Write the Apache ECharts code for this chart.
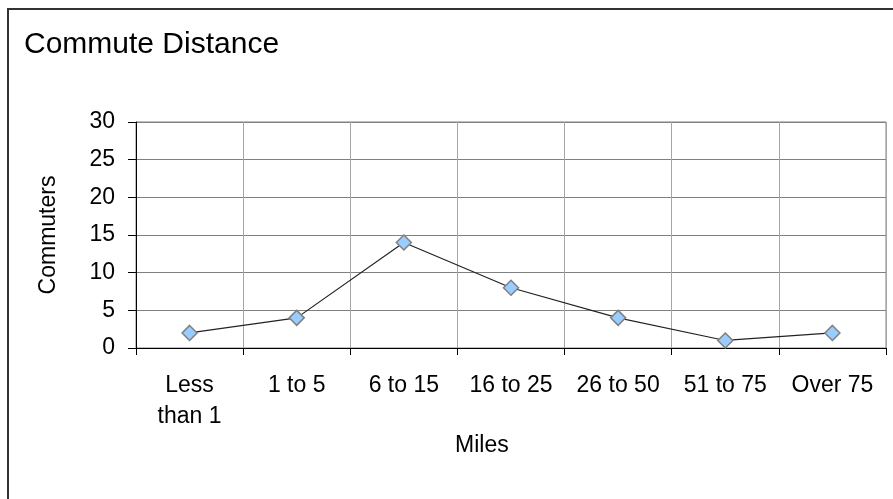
<!DOCTYPE html>
<html>
<head>
<meta charset="utf-8">
<script src="https://cdn.jsdelivr.net/npm/echarts@6/dist/echarts.min.js"></script>
<style>html,body{margin:0;padding:0;background:#fff;}#c{width:893px;height:499px;}</style>
</head>
<body>
<div id="c"></div>
<script>
var categories = ['Less\nthan 1', '1 to 5', '6 to 15', '16 to 25', '26 to 50', '51 to 75', 'Over 75'];
var commuters = [2, 4, 14, 8, 4, 1, 2];
var yTicks = [0, 5, 10, 15, 20, 25, 30];

var chart = echarts.init(document.getElementById('c'), null, {renderer: 'canvas'});
var FONT = 'Liberation Sans, Arial, sans-serif';
chart.setOption({
  animation: false,
  backgroundColor: '#fff',
  title: {
    text: 'Commute Distance',
    left: 19, top: 25,
    textStyle: {fontFamily: FONT, fontSize: 30, fontWeight: 'normal', color: '#000'}
  },
  graphic: [
    {type: 'rect', shape: {x: 8, y: 9, width: 900, height: 510}, style: {fill: 'none', stroke: '#333', lineWidth: 2}, silent: true},
    {type: 'text', left: 455, top: 434, style: {text: 'Miles', font: '23px Liberation Sans, Arial, sans-serif', fill: '#000'}}
  ],
  grid: {left: 136, top: 122, right: 7, bottom: 151, show: true, borderColor: '#808080', borderWidth: 1},
  xAxis: {
    type: 'category',
    data: categories,
    boundaryGap: true,
    axisLine: {lineStyle: {color: '#000', width: 1}},
    axisTick: {show: true, length: 7, lineStyle: {color: '#000'}},
    axisLabel: {fontFamily: FONT, fontSize: 23, color: '#000', margin: 22, lineHeight: 31, interval: 0},
    splitLine: {show: true, lineStyle: {color: '#a6a6a6', width: 1}}
  },
  yAxis: {
    type: 'value',
    min: yTicks[0], max: yTicks[yTicks.length - 1], interval: 5,
    name: 'Commuters',
    nameLocation: 'middle',
    nameGap: 76,
    nameRotate: 90,
    nameTextStyle: {fontFamily: FONT, fontSize: 23, color: '#000'},
    axisLine: {show: true, lineStyle: {color: '#000', width: 1}},
    axisTick: {show: true, length: 8, lineStyle: {color: '#000'}},
    axisLabel: {fontFamily: FONT, fontSize: 23, color: '#000', margin: 21},
    splitLine: {show: true, lineStyle: {color: '#808080', width: 1}}
  },
  series: [{
    type: 'line',
    data: commuters,
    symbol: 'diamond',
    symbolSize: 15,
    lineStyle: {color: '#222', width: 1.2},
    itemStyle: {color: '#99ccff', borderColor: '#808080', borderWidth: 1.5}
  }]
});
</script>
</body>
</html>
